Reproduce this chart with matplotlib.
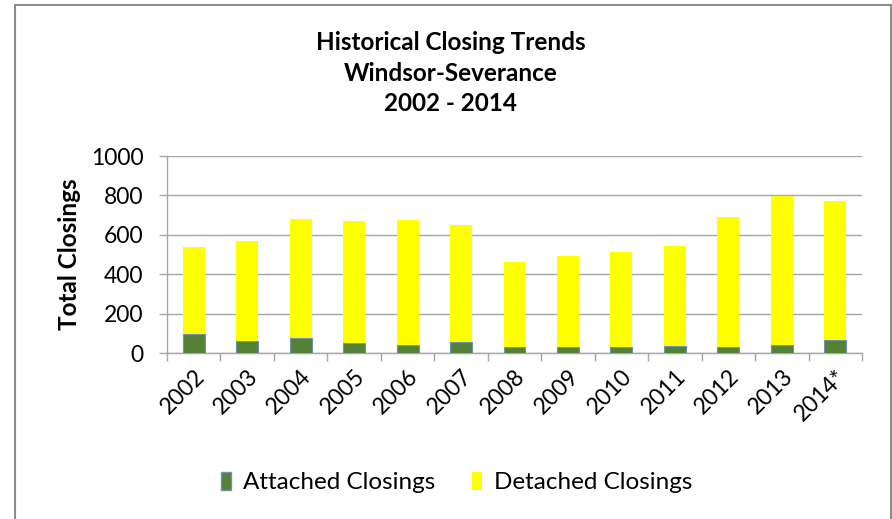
"""
Historical Closing Trends, Windsor-Severance 2002 - 2014.

Stacked columns of attached and detached closings per year.
Writes out.png.
"""

import matplotlib
matplotlib.use("Agg")
import matplotlib.pyplot as plt
import matplotlib.patches as mpatches
import numpy as np

# ── Data ──────────────────────────────────────────────────────────────────────

years    = ["2002", "2003", "2004", "2005", "2006", "2007", "2008",
            "2009", "2010", "2011", "2012", "2013", "2014*"]
attached = [98, 59, 78, 49, 42, 54, 30, 32, 32, 35, 32, 42, 64]
totals   = [539, 567, 681, 671, 676, 652, 463, 493, 513, 544, 691, 799, 772]
detached = [t - a for t, a in zip(totals, attached)]

# ── Style ─────────────────────────────────────────────────────────────────────

GREEN  = "#548235"
EDGE   = "#6f8fb5"
YELLOW = "#ffff00"
GRID   = "#a6a6a6"
FONT   = ["Lato", "DejaVu Sans"]

plt.rcParams["font.family"] = FONT

fig = plt.figure(figsize=(8.92, 5.19), dpi=100)
fig.patch.set_facecolor("white")
ax = fig.add_axes([0.1872, 0.3198, 0.7792, 0.3796])

x = np.arange(len(years))
w = 0.41

ax.bar(x, attached, width=w, color=GREEN, edgecolor=EDGE, linewidth=0.8,
       zorder=3, label="Attached Closings")
ax.bar(x, detached, width=w, bottom=attached, color=YELLOW, linewidth=0,
       zorder=3, label="Detached Closings")

# ── Axes ──────────────────────────────────────────────────────────────────────

ax.set_xlim(-0.5, len(years) - 0.5)
ax.set_ylim(0, 1000)
ax.set_yticks(range(0, 1001, 200))
ax.yaxis.grid(True, color=GRID, linewidth=1.0, zorder=0)
ax.set_axisbelow(True)

ax.set_xticks(x)
ax.set_xticklabels(years, rotation=45, ha="right", rotation_mode="anchor",
                   fontsize=16.5)
ax.tick_params(axis="x", which="major", length=0, pad=9)
ax.set_xticks(np.arange(-0.5, len(years)), minor=True)
ax.tick_params(axis="x", which="minor", length=6, color=GRID, width=1.0)
ax.tick_params(axis="y", length=6, color=GRID, width=1.0, labelsize=16.5,
               pad=11)

for side in ("top", "right"):
    ax.spines[side].set_visible(False)
for side in ("left", "bottom"):
    ax.spines[side].set_color(GRID)
    ax.spines[side].set_linewidth(1.0)

ax.set_ylabel("Total Closings", fontsize=17.5, fontweight="bold")
ax.yaxis.set_label_coords(-0.124, 0.5)

# ── Titles & legend ───────────────────────────────────────────────────────────

fig.text(0.505, 0.859, "Historical Closing Trends\nWindsor-Severance\n2002 - 2014",
         ha="center", va="center", fontsize=17.5, fontweight="bold",
         linespacing=1.38)

handles = [
    mpatches.Patch(facecolor=GREEN, edgecolor=EDGE, label="Attached Closings"),
    mpatches.Patch(facecolor=YELLOW, label="Detached Closings"),
]
fig.legend(handles=handles, loc="center", bbox_to_anchor=(0.512, 0.07),
           ncol=2, frameon=False, fontsize=17.5, handlelength=0.42,
           handleheight=0.75, handletextpad=0.5, columnspacing=1.5)

# outer chart border
fig.patches.append(mpatches.Rectangle(
    (15 / 892, -0.05), 876 / 892, 1.05 - 5 / 519,
    transform=fig.transFigure, fill=False, edgecolor="#8c8c8c",
    linewidth=1.5, clip_on=False))

fig.savefig("out.png", dpi=100, facecolor="white")
plt.close()
